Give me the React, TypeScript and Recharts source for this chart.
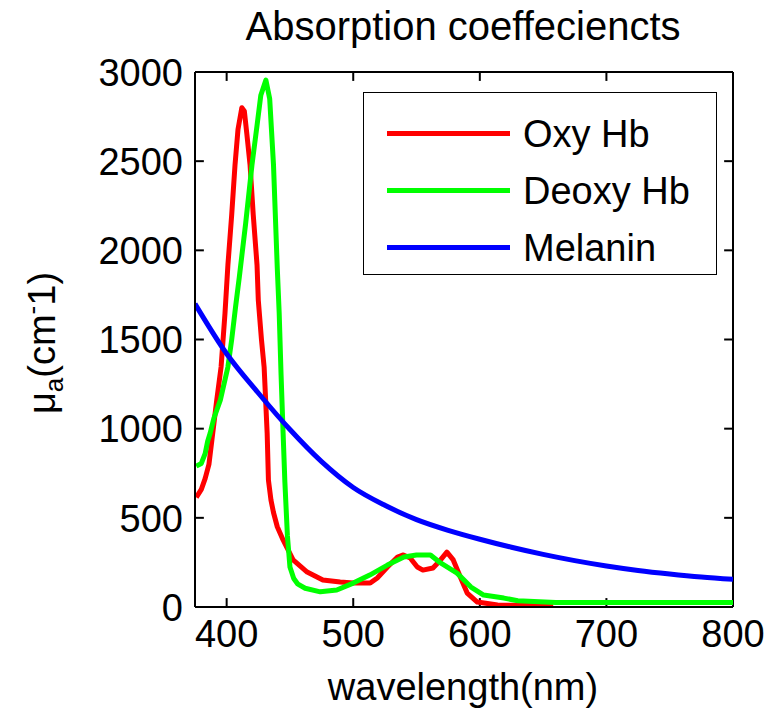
import { LineChart, Line, XAxis, YAxis, Legend, ReferenceLine } from "recharts";

const FONT = "'Liberation Sans', Arial, sans-serif";

// wavelength (nm) / absorption coefficient (cm^-1)
const OXY_WL = [376, 380, 383, 386, 389, 392, 395.6, 398.7, 401, 404, 406.6, 409, 412, 414, 416, 418.5, 421, 424, 425, 427.5, 429.6, 432, 433, 435, 437, 440, 444.6, 452.5, 463.6, 476, 489.7, 500, 513.4, 519, 527, 535, 539.6, 545, 550.6, 555, 563, 569, 574, 579, 584.6, 590, 598, 614, 658];
const OXY_VAL = [615, 660, 720, 800, 975, 1150, 1346, 1648, 1918, 2200, 2478, 2680, 2800, 2780, 2650, 2478, 2200, 1918, 1721, 1500, 1346, 975, 712, 600, 530, 450, 376, 264, 196, 151, 140, 134, 134, 163, 224, 280, 292, 275, 224, 207, 219, 264, 308, 264, 168, 78, 28, 11, 8];

const DEOXY_WL = [376, 380, 383, 385, 387, 390, 395, 401, 404, 407, 410, 415, 420, 424, 427, 431, 434, 437, 440, 441.5, 443, 444.6, 446, 448, 450, 453, 456, 462, 474, 487, 500, 513, 527, 540, 550, 561, 569, 582, 593, 603, 619, 630, 660, 700, 800];
const DEOXY_VAL = [790, 805, 860, 930, 975, 1060, 1160, 1346, 1500, 1680, 1850, 2150, 2478, 2700, 2870, 2955, 2850, 2480, 1900, 1650, 1300, 975, 700, 400, 224, 160, 130, 105, 85, 95, 134, 179, 235, 280, 292, 292, 247, 190, 112, 67, 50, 35, 25, 25, 25];

const MEL_WL = [375, 400, 425, 450, 475, 500, 525, 550, 575, 600, 625, 650, 675, 700, 725, 750, 775, 800];
const MEL_VAL = [1700, 1420, 1200, 995, 815, 670, 570, 490, 430, 380, 335, 295, 260, 230, 205, 185, 168, 155];

const X_TICKS = [400, 500, 600, 700, 800];
const Y_TICKS = [0, 500, 1000, 1500, 2000, 2500, 3000];
const X_DOMAIN = [375, 800];
const Y_DOMAIN = [0, 3000];

const SERIES = [
  { name: "Oxy Hb", color: "#ff0000", wl: OXY_WL, val: OXY_VAL, curve: "linear" },
  { name: "Deoxy Hb", color: "#00ff00", wl: DEOXY_WL, val: DEOXY_VAL, curve: "linear" },
  { name: "Melanin", color: "#0000ff", wl: MEL_WL, val: MEL_VAL, curve: "monotone" },
];

const toRows = (wl: number[], val: number[]) => wl.map((x, i) => ({ x, v: val[i] }));

const axisLine = { stroke: "#000", strokeWidth: 2 };
// inward tick length, in data units (~9px each way)
const X_TICK_LEN = 7;
const Y_TICK_LEN = 50;

function BottomTick({ x, y, payload }: any) {
  return (
    <text x={x} y={y + 13} dy="0.72em" textAnchor="middle" fontSize={38} fontFamily={FONT} fill="#000">
      {payload.value}
    </text>
  );
}

function LeftTick({ x, y, payload }: any) {
  return (
    <text x={x - 12} y={y} dy="0.36em" textAnchor="end" fontSize={38} fontFamily={FONT} fill="#000">
      {payload.value}
    </text>
  );
}

function LegendBox() {
  return (
    <div
      style={{
        width: 354,
        height: 183,
        boxSizing: "border-box",
        border: "1.5px solid #000",
        background: "#fff",
        paddingTop: 12,
        fontFamily: FONT,
      }}
    >
      {SERIES.map((s) => (
        <div key={s.name} style={{ display: "flex", alignItems: "center", height: 57 }}>
          <div style={{ width: 123, height: 5, marginLeft: 23, background: s.color }} />
          <span style={{ marginLeft: 13, fontSize: 38, color: "#000", lineHeight: "38px" }}>{s.name}</span>
        </div>
      ))}
    </div>
  );
}

export default function App() {
  const refProps = { xAxisId: "b", yAxisId: "l", stroke: "#000", strokeWidth: 2, ifOverflow: "visible" as const };
  return (
    <div style={{ position: "absolute", left: 0, top: 0, width: 781, height: 715, background: "#fff", fontFamily: FONT }}>
      <div style={{ position: "absolute", left: 0, width: 926, top: 6, textAlign: "center", fontSize: 40, lineHeight: "40px", color: "#000" }}>
        Absorption coeffeciencts
      </div>
      <div style={{ position: "absolute", left: 0, width: 926, top: 668, textAlign: "center", fontSize: 38, lineHeight: "38px", color: "#000" }}>
        wavelength(nm)
      </div>
      <div
        style={{
          position: "absolute",
          left: 43,
          top: 343,
          transform: "translate(-50%, -50%) rotate(-90deg)",
          fontSize: 38,
          lineHeight: "38px",
          whiteSpace: "nowrap",
          color: "#000",
        }}
      >
        μ<sub style={{ fontSize: 26, verticalAlign: "-8px" }}>a</sub>(cm<sup style={{ fontSize: 26, verticalAlign: "14px" }}>-</sup>1)
      </div>
      <LineChart width={781} height={715} margin={{ top: 72, right: 48, bottom: 48, left: 75 }}>
        <XAxis
          xAxisId="b"
          type="number"
          dataKey="x"
          domain={X_DOMAIN}
          ticks={X_TICKS}
          allowDataOverflow
          height={60}
          tickSize={0}
          tickMargin={0}
          tickLine={false}
          tick={<BottomTick />}
          axisLine={axisLine}
        />
        <YAxis
          yAxisId="l"
          type="number"
          domain={Y_DOMAIN}
          ticks={Y_TICKS}
          allowDataOverflow
          width={120}
          tickSize={0}
          tickMargin={0}
          tickLine={false}
          tick={<LeftTick />}
          axisLine={axisLine}
        />
        {/* box frame: top and right edges */}
        <ReferenceLine {...refProps} y={Y_DOMAIN[1]} />
        <ReferenceLine {...refProps} x={X_DOMAIN[1]} />
        {/* inward ticks on all four sides */}
        {X_TICKS.map((t) => (
          <ReferenceLine key={`xb${t}`} {...refProps} segment={[{ x: t, y: Y_DOMAIN[0] }, { x: t, y: Y_DOMAIN[0] + Y_TICK_LEN }]} />
        ))}
        {X_TICKS.map((t) => (
          <ReferenceLine key={`xt${t}`} {...refProps} segment={[{ x: t, y: Y_DOMAIN[1] }, { x: t, y: Y_DOMAIN[1] - Y_TICK_LEN }]} />
        ))}
        {Y_TICKS.map((t) => (
          <ReferenceLine key={`yl${t}`} {...refProps} segment={[{ x: X_DOMAIN[0], y: t }, { x: X_DOMAIN[0] + X_TICK_LEN, y: t }]} />
        ))}
        {Y_TICKS.map((t) => (
          <ReferenceLine key={`yr${t}`} {...refProps} segment={[{ x: X_DOMAIN[1], y: t }, { x: X_DOMAIN[1] - X_TICK_LEN, y: t }]} />
        ))}
        {SERIES.map((s) => (
          <Line
            key={s.name}
            xAxisId="b"
            yAxisId="l"
            data={toRows(s.wl, s.val)}
            dataKey="v"
            name={s.name}
            type={s.curve as any}
            stroke={s.color}
            strokeWidth={5}
            strokeLinejoin="round"
            dot={false}
            activeDot={false}
            isAnimationActive={false}
          />
        ))}
        <Legend
          layout="vertical"
          align="center"
          verticalAlign="middle"
          content={() => <LegendBox />}
          wrapperStyle={{ position: "absolute", left: 363, top: 92, width: 354, height: 183 }}
        />
      </LineChart>
    </div>
  );
}
